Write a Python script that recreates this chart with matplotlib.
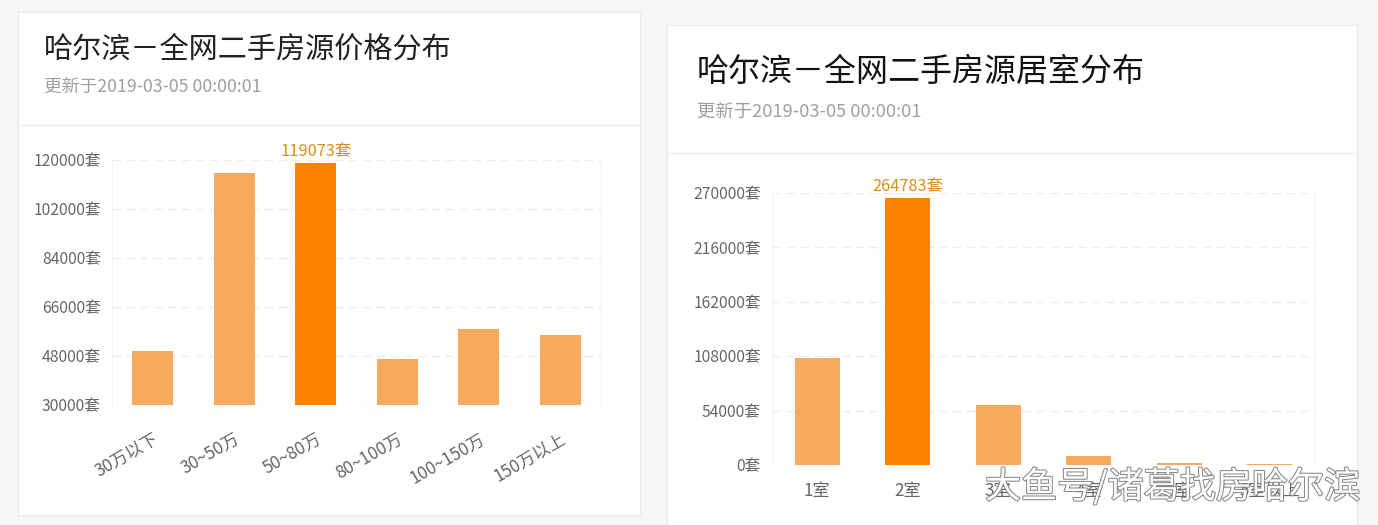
import matplotlib
matplotlib.use('Agg')
import matplotlib.pyplot as plt
import matplotlib.patheffects as pe
from matplotlib.patches import Rectangle

plt.rcParams['font.family'] = ['Noto Sans CJK SC', 'DejaVu Sans']

# data
price_cats = ['30万以下', '30~50万', '50~80万', '80~100万', '100~150万', '150万以上']
price_vals = [49800, 115300, 119073, 46800, 57900, 55700]
price_ticks = [30000, 48000, 66000, 84000, 102000, 120000]

room_cats = ['1室', '2室', '3室', '4室', '5室', '5室以上']
room_vals = [106500, 264783, 59900, 8600, 1500, 1200]
room_ticks = [0, 54000, 108000, 162000, 216000, 270000]

W, H = 1378, 525
light = '#F5AA5C'
dark = '#FF8300'
label_c = '#D8901C'
tick_c = '#666666'

fig = plt.figure(figsize=(W / 100, H / 100), dpi=100)
fig.patch.set_facecolor('#f6f6f6')


def rect(l, t, r, b):
    return [l / W, 1 - b / H, (r - l) / W, (b - t) / H]


def fx(x):
    return x / W


def fy(y):
    return 1 - y / H


# cards
for l, t, r, b in [(18, 12, 640, 515), (667, 25, 1357, 540)]:
    fig.patches.append(Rectangle((fx(l), fy(b)), fx(r - l), (b - t) / H,
                                 transform=fig.transFigure, facecolor='white',
                                 edgecolor='#ebebeb', lw=1, zorder=-10))
# separators
fig.add_artist(plt.Line2D([fx(18), fx(640)], [fy(125), fy(125)], color='#eeeeee', lw=1, zorder=-5))
fig.add_artist(plt.Line2D([fx(667), fx(1357)], [fy(153), fy(153)], color='#eeeeee', lw=1, zorder=-5))

# titles
fig.text(fx(44), fy(50), '哈尔滨－全网二手房源价格分布', fontsize=21, color='#222222', va='center')
fig.text(fx(44), fy(87), '更新于2019-03-05 00:00:01', fontsize=12.8, color='#a0a0a0', va='center')
fig.text(fx(697), fy(72), '哈尔滨－全网二手房源居室分布', fontsize=23, color='#111111', va='center')
fig.text(fx(697), fy(112), '更新于2019-03-05 00:00:01', fontsize=13.2, color='#a0a0a0', va='center')


def draw(ax, cats, vals, ticks, hi, rot):
    x = list(range(len(cats)))
    colors = [dark if i == hi else light for i in x]
    ax.bar(x, vals, width=0.5, color=colors, zorder=3)
    ax.set_xlim(-0.5, len(cats) - 0.5)
    ax.set_ylim(ticks[0], ticks[-1])
    ax.set_yticks(ticks)
    ax.set_yticklabels([f'{t}套' for t in ticks])
    ax.set_xticks(x)
    if rot:
        ax.set_xticklabels(cats, rotation=30, ha='right', rotation_mode='anchor')
    else:
        ax.set_xticklabels(cats)
    ax.tick_params(axis='y', length=0, labelsize=11.3, colors=tick_c, pad=8)
    ax.tick_params(axis='x', length=0, labelsize=12.3, colors=tick_c)
    ax.grid(axis='y', linestyle=(0, (6, 4)), color='#eeeeee', lw=1, zorder=0)
    for s in ['top', 'bottom']:
        ax.spines[s].set_visible(False)
    for s in ['left', 'right']:
        ax.spines[s].set_color('#f3f3f3')
    ax.set_facecolor('white')
    ax.annotate(f'{vals[hi]}套', (hi, vals[hi]), xytext=(0, 2), textcoords='offset points',
                ha='center', va='bottom', color=label_c, fontsize=11.8)


ax1 = fig.add_axes(rect(112, 160, 601, 405))
draw(ax1, price_cats, price_vals, price_ticks, 2, True)
ax1.tick_params(axis='x', pad=18)

ax2 = fig.add_axes(rect(772, 193, 1315, 465))
draw(ax2, room_cats, room_vals, room_ticks, 1, False)
ax2.tick_params(axis='x', pad=12)

# watermark
fig.text(fx(985), fy(487), '大鱼号/诸葛找房哈尔滨', fontsize=26, color='white', va='center',
         path_effects=[pe.withStroke(linewidth=1.5, foreground='#888888')])

plt.savefig('out.png', dpi=100, facecolor=fig.get_facecolor())
